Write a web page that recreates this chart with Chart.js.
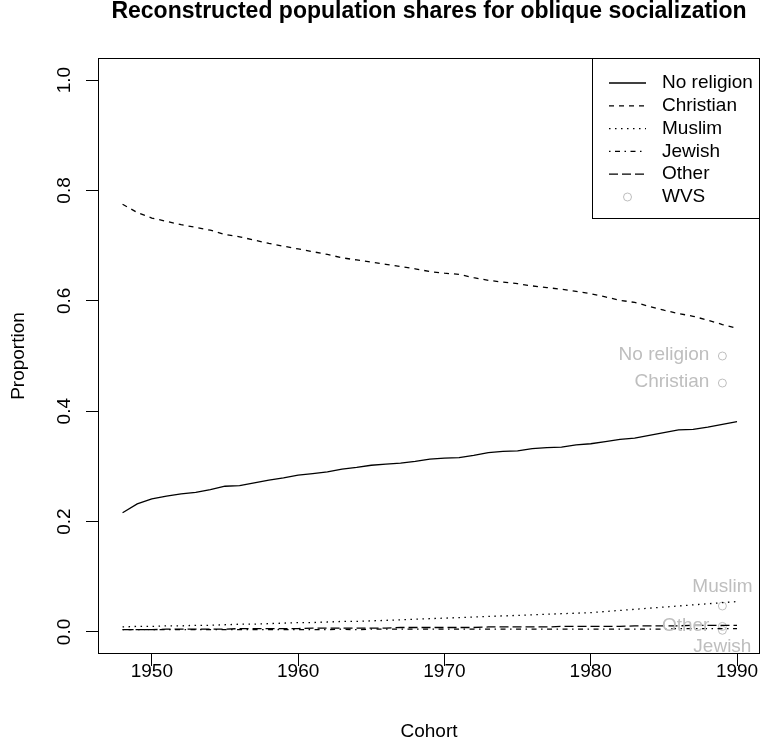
<!DOCTYPE html>
<html>
<head>
<meta charset="utf-8">
<title>Reconstructed population shares for oblique socialization</title>
<script src="https://cdn.jsdelivr.net/npm/chart.js@4.4.1/dist/chart.umd.min.js"></script>
<style>
  html, body { margin: 0; padding: 0; background: #fff; overflow: hidden; }
  #wrap { width: 760px; height: 749px; }
</style>
</head>
<body>
<div id="wrap"><canvas id="chart" width="760" height="749"></canvas></div>
<script>
// ---------------- data ----------------
var cohorts = [1948, 1949, 1950, 1951, 1952, 1953, 1954, 1955, 1956, 1957,
               1958, 1959, 1960, 1961, 1962, 1963, 1964, 1965, 1966, 1967,
               1968, 1969, 1970, 1971, 1972, 1973, 1974, 1975, 1976, 1977,
               1978, 1979, 1980, 1981, 1982, 1983, 1984, 1985, 1986, 1987,
               1988, 1989, 1990];

var noReligion = [0.216, 0.232, 0.241, 0.246, 0.250, 0.253, 0.258, 0.264, 0.265, 0.270,
                  0.275, 0.279, 0.284, 0.287, 0.290, 0.295, 0.298, 0.302, 0.304, 0.306,
                  0.309, 0.313, 0.315, 0.316, 0.320, 0.325, 0.327, 0.328, 0.332, 0.334,
                  0.335, 0.339, 0.341, 0.345, 0.349, 0.351, 0.356, 0.361, 0.366, 0.367,
                  0.371, 0.376, 0.381];

var christian = [0.775, 0.760, 0.750, 0.744, 0.738, 0.733, 0.728, 0.720, 0.716, 0.710,
                 0.704, 0.699, 0.694, 0.689, 0.684, 0.678, 0.674, 0.670, 0.666, 0.662,
                 0.658, 0.653, 0.650, 0.648, 0.642, 0.637, 0.634, 0.631, 0.627, 0.624,
                 0.621, 0.617, 0.613, 0.607, 0.601, 0.597, 0.590, 0.583, 0.577, 0.572,
                 0.565, 0.557, 0.550];

var muslim = [0.009, 0.010, 0.010, 0.011, 0.011, 0.012, 0.012, 0.013, 0.014, 0.014,
              0.015, 0.016, 0.017, 0.017, 0.018, 0.019, 0.019, 0.020, 0.021, 0.022,
              0.023, 0.024, 0.025, 0.026, 0.027, 0.028, 0.029, 0.030, 0.031, 0.032,
              0.033, 0.034, 0.035, 0.037, 0.039, 0.041, 0.043, 0.045, 0.047, 0.049,
              0.051, 0.053, 0.055];

var jewish = [0.004, 0.004, 0.004, 0.004, 0.004, 0.004, 0.004, 0.004, 0.004, 0.004,
              0.004, 0.004, 0.004, 0.004, 0.004, 0.005, 0.004, 0.005, 0.005, 0.005,
              0.005, 0.005, 0.005, 0.005, 0.005, 0.005, 0.005, 0.005, 0.005, 0.005,
              0.005, 0.005, 0.005, 0.005, 0.005, 0.005, 0.005, 0.005, 0.006, 0.006,
              0.006, 0.006, 0.006];

var other = [0.004, 0.004, 0.004, 0.005, 0.005, 0.005, 0.005, 0.005, 0.006, 0.006,
             0.006, 0.006, 0.006, 0.007, 0.007, 0.007, 0.007, 0.007, 0.007, 0.008,
             0.008, 0.008, 0.008, 0.008, 0.008, 0.009, 0.009, 0.009, 0.009, 0.009,
             0.010, 0.010, 0.010, 0.010, 0.010, 0.011, 0.011, 0.011, 0.011, 0.012,
             0.012, 0.012, 0.012];

// World Values Survey reference points
var wvsYear = 1989;
var wvsLabels = ['No religion', 'Christian', 'Muslim', 'Jewish', 'Other'];
var wvsValues = [0.500, 0.451, 0.047, 0.003, 0.010];

var xTicks = [1950, 1960, 1970, 1980, 1990];
var yTicks = [0, 0.2, 0.4, 0.6, 0.8, 1.0];
var yTickLabels = ['0.0', '0.2', '0.4', '0.6', '0.8', '1.0'];

// ---------------- styling ----------------
var FONT = '"Liberation Sans", Arial, Helvetica, sans-serif';
var GREY = '#bebebe';
// which side of the point each WVS label goes (like R's pos=)
var wvsSide = ['left', 'left', 'above', 'below', 'left'];

function pts(vals) {
  return cohorts.map(function(c, i) { return { x: c, y: vals[i] }; });
}

function lineSet(label, vals, dash) {
  return {
    label: label,
    data: pts(vals),
    borderColor: '#000',
    borderWidth: 1.3,
    borderDash: dash,
    pointRadius: 0,
    tension: 0,
    fill: false
  };
}

// draws the R-like frame, tick labels, title, WVS labels and legend
var rDecor = {
  id: 'rDecor',
  afterDraw: function(chart) {
    var ctx = chart.ctx, area = chart.chartArea;
    var xs = chart.scales.x, ys = chart.scales.y;
    ctx.save();

    // box round the plot
    var l = Math.floor(area.left) + 0.5, t = Math.floor(area.top) + 0.5;
    var r = Math.ceil(area.right) - 0.5, b = Math.ceil(area.bottom) - 0.5;
    ctx.strokeStyle = '#000';
    ctx.lineWidth = 1;
    ctx.setLineDash([]);
    ctx.strokeRect(l, t, r - l, b - t);

    // tick labels
    ctx.fillStyle = '#000';
    ctx.font = '19px ' + FONT;
    ctx.textAlign = 'center';
    ctx.textBaseline = 'middle';
    xTicks.forEach(function(v) {
      ctx.fillText(String(v), xs.getPixelForValue(v), area.bottom + 18);
    });
    yTicks.forEach(function(v, i) {
      ctx.save();
      ctx.translate(area.left - 33, ys.getPixelForValue(v));
      ctx.rotate(-Math.PI / 2);
      ctx.fillText(yTickLabels[i], 0, 0);
      ctx.restore();
    });

    // main title, centred over the plot region
    ctx.font = 'bold 23px ' + FONT;
    ctx.fillText('Reconstructed population shares for oblique socialization',
                 (area.left + area.right) / 2, 12);

    // WVS labels
    ctx.font = '19px ' + FONT;
    ctx.fillStyle = GREY;
    wvsValues.forEach(function(v, i) {
      var px = xs.getPixelForValue(wvsYear), py = ys.getPixelForValue(v);
      if (wvsSide[i] === 'left') {
        ctx.textAlign = 'right';
        ctx.fillText(wvsLabels[i], px - 13, py - 1);
      } else if (wvsSide[i] === 'above') {
        ctx.textAlign = 'center';
        ctx.fillText(wvsLabels[i], px, py - 19);
      } else {
        ctx.textAlign = 'center';
        ctx.fillText(wvsLabels[i], px, py + 16);
      }
    });

    // legend, top right inside the plot
    var lx = 592.5, ly = t, lw = r - lx, lh = 160;
    ctx.fillStyle = '#fff';
    ctx.fillRect(lx, ly, lw, lh);
    ctx.strokeStyle = '#000';
    ctx.strokeRect(lx, ly, lw, lh);
    ctx.textAlign = 'left';
    ctx.font = '19px ' + FONT;
    chart.data.datasets.forEach(function(ds, i) {
      var y = area.top + 25 + i * 22.8;
      if (ds.type === 'scatter') {
        ctx.strokeStyle = GREY;
        ctx.setLineDash([]);
        ctx.beginPath();
        ctx.arc(627.5, y, 4, 0, Math.PI * 2);
        ctx.stroke();
      } else {
        ctx.strokeStyle = '#000';
        ctx.lineWidth = 1.3;
        ctx.setLineDash(ds.borderDash);
        ctx.beginPath();
        ctx.moveTo(609, y);
        ctx.lineTo(646, y);
        ctx.stroke();
        ctx.lineWidth = 1;
      }
      ctx.setLineDash([]);
      ctx.fillStyle = '#000';
      ctx.fillText(ds.label, 662, y);
    });

    ctx.restore();
  }
};

var datasets = [
  lineSet('No religion', noReligion, []),
  lineSet('Christian', christian, [5, 5]),
  lineSet('Muslim', muslim, [1.5, 4.5]),
  lineSet('Jewish', jewish, [1.5, 4.5, 5, 4.5]),
  lineSet('Other', other, [9, 4]),
  {
    type: 'scatter',
    label: 'WVS',
    data: wvsValues.map(function(v) { return { x: wvsYear, y: v }; }),
    pointRadius: 4,
    pointBorderWidth: 1,
    pointBorderColor: GREY,
    pointBackgroundColor: 'rgba(0,0,0,0)',
    showLine: false
  }
];

new Chart(document.getElementById('chart'), {
  type: 'line',
  data: { datasets: datasets },
  plugins: [rDecor],
  options: {
    responsive: false,
    animation: false,
    events: [],
    layout: { autoPadding: false, padding: { top: 58, right: 0, left: 0, bottom: 0 } },
    plugins: {
      legend: { display: false },
      tooltip: { enabled: false },
      title: { display: false }
    },
    scales: {
      x: {
        type: 'linear',
        min: 1946.32,
        max: 1991.57,
        afterBuildTicks: function(scale) {
          scale.ticks = xTicks.map(function(v) { return { value: v }; });
        },
        afterFit: function(scale) {
          scale.height = 95;
          scale.paddingLeft = 0;
          scale.paddingRight = 0;
        },
        ticks: { display: false },
        grid: { drawOnChartArea: false, drawTicks: true, tickLength: 12, color: '#000', lineWidth: 1 },
        border: { display: false },
        title: {
          display: true,
          text: 'Cohort',
          color: '#000',
          font: { family: FONT, size: 19 },
          padding: { top: 0, bottom: 6 }
        }
      },
      y: {
        type: 'linear',
        min: -0.04,
        max: 1.04,
        afterBuildTicks: function(scale) {
          scale.ticks = yTicks.map(function(v) { return { value: v }; });
        },
        afterFit: function(scale) {
          scale.width = 98;
          scale.paddingTop = 0;
          scale.paddingBottom = 0;
        },
        ticks: { display: false },
        grid: { drawOnChartArea: false, drawTicks: true, tickLength: 12, color: '#000', lineWidth: 1 },
        border: { display: false },
        title: {
          display: true,
          text: 'Proportion',
          color: '#000',
          font: { family: FONT, size: 19 },
          padding: { top: 7, bottom: 0 }
        }
      }
    }
  }
});
</script>
</body>
</html>
